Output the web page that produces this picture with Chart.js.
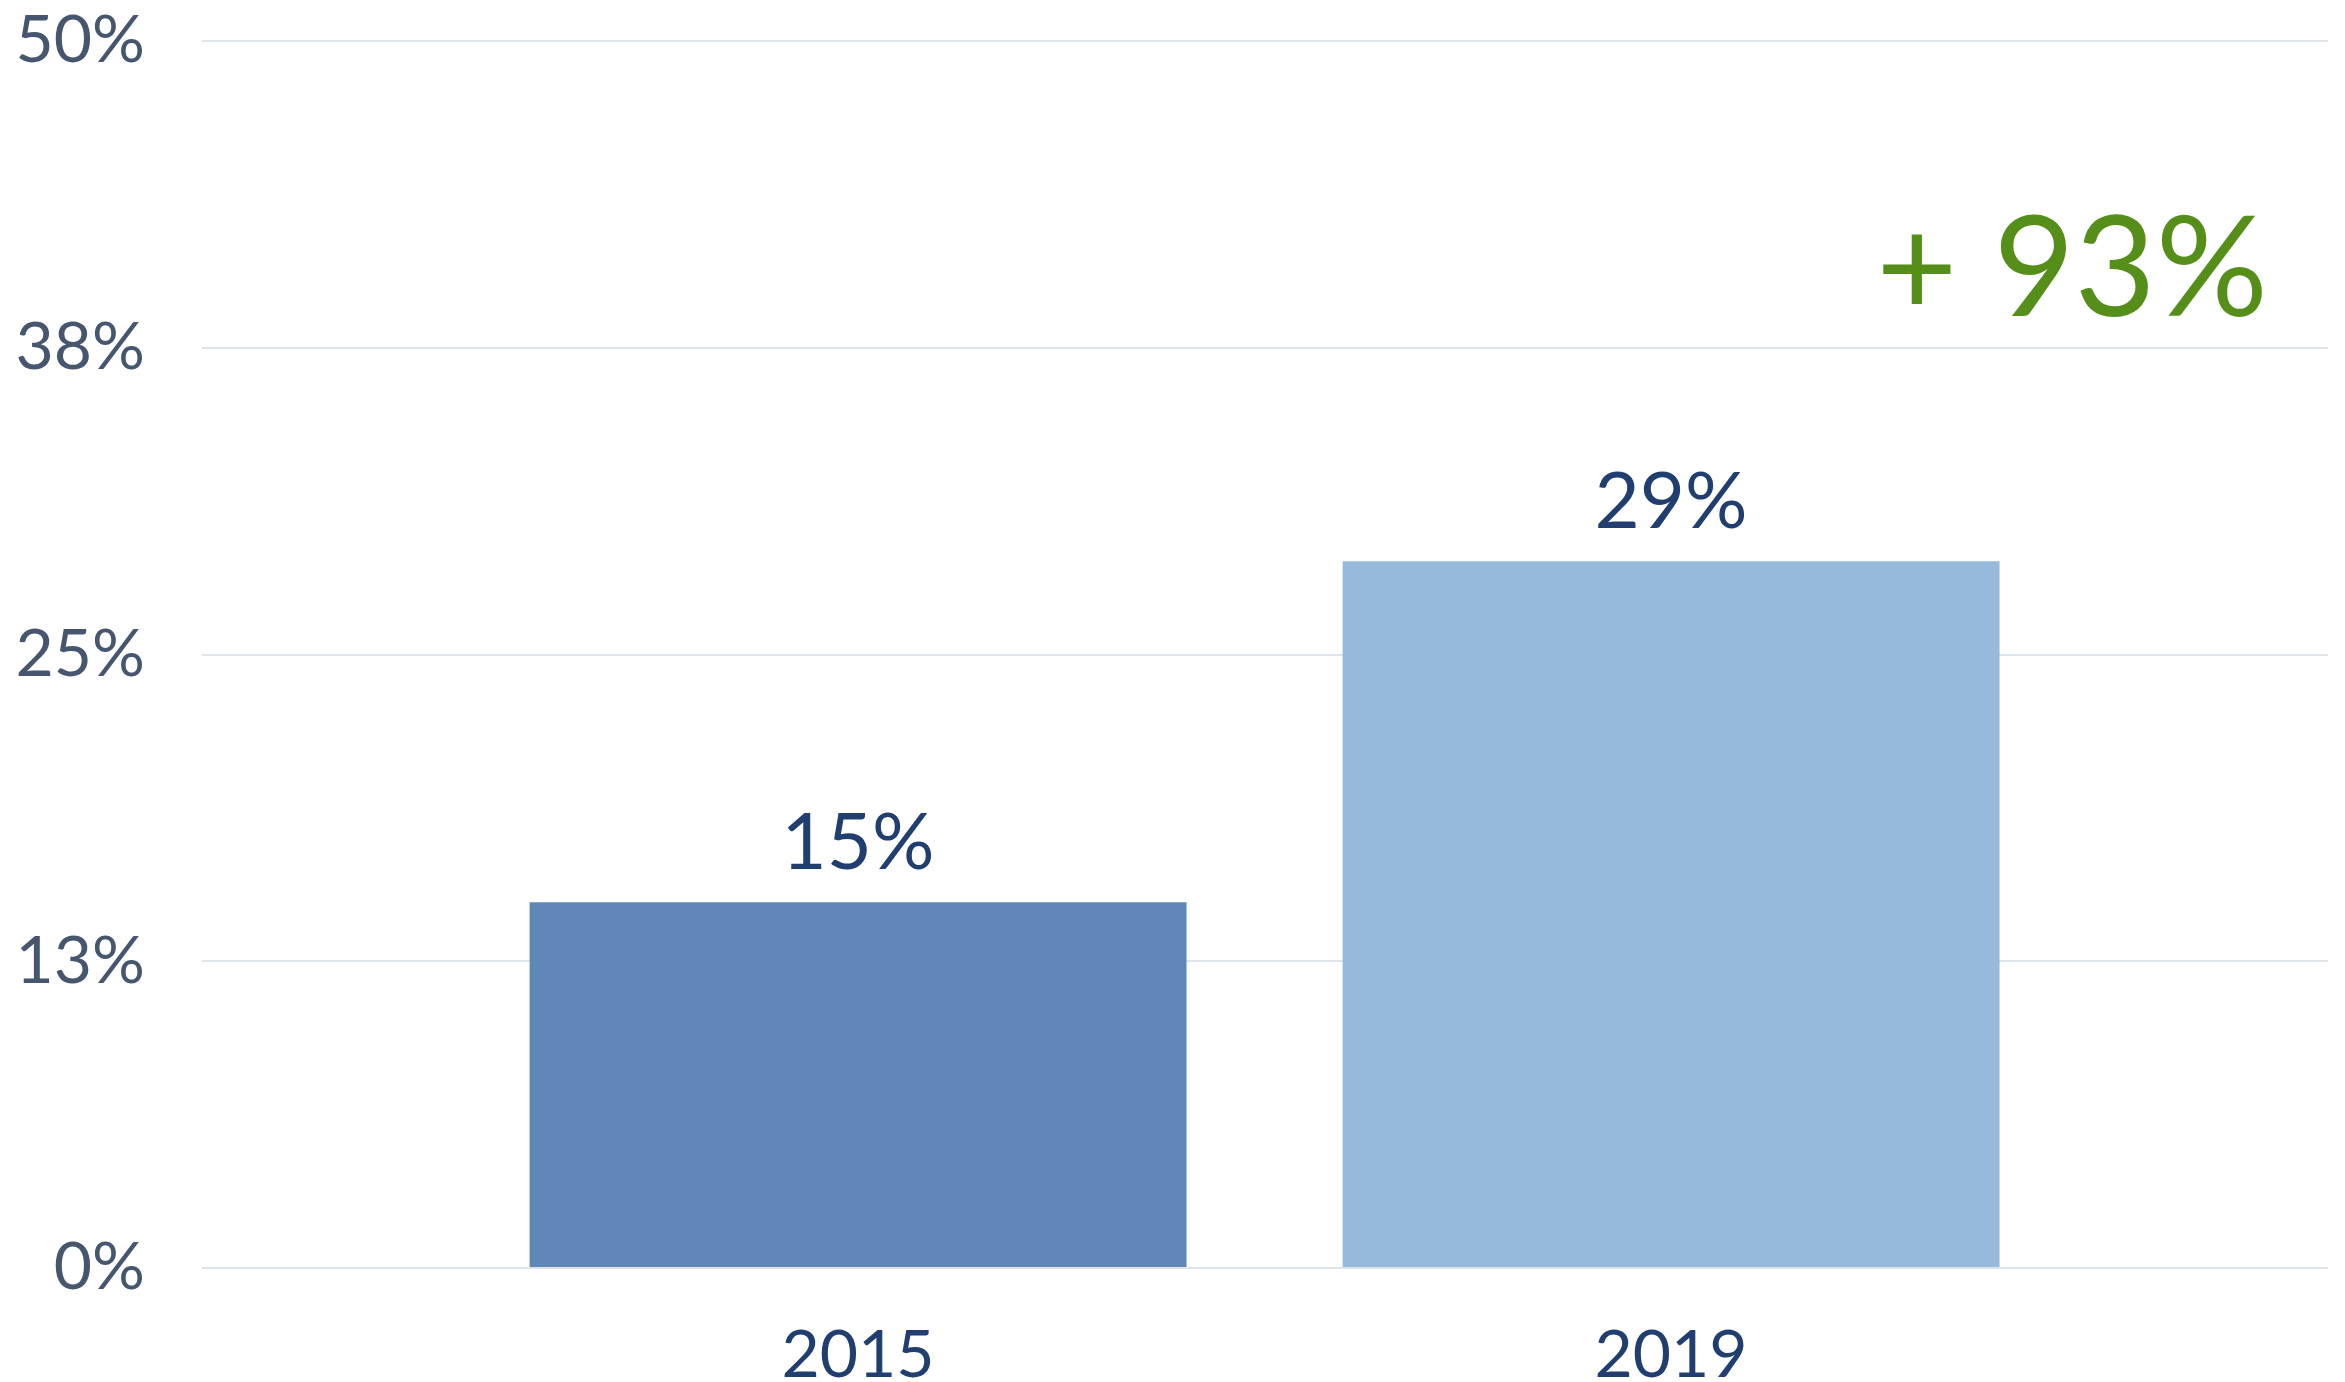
<!DOCTYPE html>
<html>
<head>
<meta charset="utf-8">
<script src="https://cdn.jsdelivr.net/npm/chart.js@4/dist/chart.umd.min.js"></script>
<style>
  html, body { margin: 0; padding: 0; background: #fff; }
  #wrap { width: 2345px; height: 1382px; }
</style>
</head>
<body>
<div id="wrap"><canvas id="growthChart"></canvas></div>
<script>
const categories = ["2015", "2019"];
const shares = [14.9, 28.8];
const barColors = ["#5f87b8", "#97b9db"];
const yTicks = [0, 12.5, 25, 37.5, 50];

const FONT = "Lato, 'Open Sans', sans-serif";
const navy = "#203e6f";
const slate = "#46566e";
const green = "#558e19";

// value labels above the bars + the growth callout
const labelPlugin = {
  id: "barLabels",
  afterDatasetsDraw(chart) {
    const ctx = chart.ctx;
    const meta = chart.getDatasetMeta(0);
    ctx.save();
    ctx.fillStyle = navy;
    ctx.font = "78px " + FONT;
    ctx.textAlign = "center";
    ctx.textBaseline = "alphabetic";
    meta.data.forEach((bar, i) => {
      ctx.fillText(Math.round(shares[i]) + "%", bar.x, bar.y - 33);
    });

    const growth = Math.round((shares[1] / shares[0] - 1) * 100);
    const area = chart.chartArea;
    ctx.fillStyle = green;
    ctx.font = "140px " + FONT;
    ctx.textAlign = "right";
    ctx.fillText("+ " + growth + "%", area.right - 60, 316);
    ctx.restore();
  },
};

new Chart(document.getElementById("growthChart"), {
  type: "bar",
  data: {
    datasets: [
      {
        data: categories.map((c, i) => ({ x: i, y: shares[i] })),
        backgroundColor: barColors,
        borderWidth: 0,
        categoryPercentage: 1,
        barPercentage: 0.808,
      },
    ],
  },
  options: {
    responsive: true,
    maintainAspectRatio: false,
    animation: false,
    layout: { padding: { top: 41, right: 17, left: 0, bottom: 0 } },
    plugins: {
      legend: { display: false },
      tooltip: { enabled: false },
    },
    scales: {
      x: {
        type: "linear",
        min: -0.807,
        max: 1.808,
        offset: false,
        bounds: "data",
        grid: { display: false, offset: false },
        border: { display: false },
        afterBuildTicks: (scale) => {
          scale.ticks = categories.map((c, i) => ({ value: i }));
        },
        afterFit: (scale) => {
          scale.height = 114;
          scale.paddingLeft = 0;
          scale.paddingRight = 0;
        },
        ticks: {
          color: navy,
          font: { family: FONT, size: 66 },
          padding: 40,
          autoSkip: false,
          maxRotation: 0,
          callback: (v) => categories[v],
        },
      },
      y: {
        min: 0,
        max: 50,
        afterBuildTicks: (scale) => {
          scale.ticks = yTicks.map((v) => ({ value: v }));
        },
        afterFit: (scale) => {
          scale.width = 202;
          scale.paddingTop = 0;
          scale.paddingBottom = 0;
        },
        grid: { color: "#dfe3ea", lineWidth: 2, drawTicks: false },
        border: { display: false },
        ticks: {
          color: slate,
          font: { family: FONT, size: 66 },
          padding: 57,
          callback: (v) => Math.round(v) + "%",
        },
      },
    },
  },
  plugins: [labelPlugin],
});
</script>
</body>
</html>
